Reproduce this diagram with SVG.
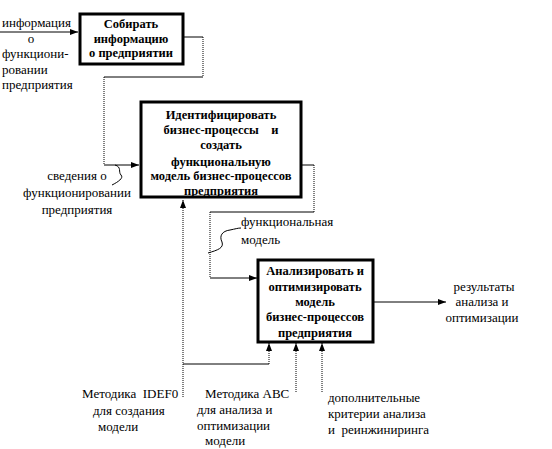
<svg xmlns="http://www.w3.org/2000/svg" width="552" height="449" viewBox="0 0 552 449">
<style>
.box{fill:#fff;stroke:#000;stroke-width:3}
.bt{font-family:'Liberation Serif','DejaVu Serif',serif;font-size:12.5px;font-weight:bold;text-anchor:middle;fill:#000}
.lt{font-family:'Liberation Serif','DejaVu Serif',serif;font-size:13px;fill:#000}
.c{text-anchor:middle}
.s{fill:none;stroke:#000;stroke-width:1}
.d{fill:none;stroke:#000;stroke-width:1;stroke-dasharray:1 1}
</style>
<defs>
<marker id="ah" viewBox="0 0 8 8" refX="8" refY="4" markerWidth="8" markerHeight="8" markerUnits="userSpaceOnUse" orient="auto">
<path d="M0,1 L8,4 L0,7 Z" fill="#000"/>
</marker>
</defs>
<g id="connectors">
<line class="s" x1="0" y1="32" x2="78" y2="32" marker-end="url(#ah)"/>
<polyline class="s" points="183,37 203,37"/>
<line class="d" x1="203" y1="37" x2="203" y2="77"/>
<polyline class="s" points="203,77 104,77"/>
<line class="d" x1="104" y1="77" x2="104" y2="165"/>
<line class="s" x1="104" y1="165" x2="139" y2="165" marker-end="url(#ah)"/>
<path class="s" d="M115,165 C122,167 118,172 121,175 C124,178 118,182 112,185"/>
<line class="s" x1="301" y1="165" x2="314" y2="165"/>
<line class="d" x1="314" y1="165" x2="314" y2="212"/>
<line class="s" x1="314" y1="212" x2="210" y2="212"/>
<line class="d" x1="210" y1="212" x2="210" y2="278"/>
<line class="s" x1="210" y1="278" x2="257" y2="278" marker-end="url(#ah)"/>
<path class="s" d="M208,253 C218,250 224,248 222,242 C219,236 222,231 230,230 C235,229 238,228 241,228"/>
<line class="s" x1="373" y1="302" x2="446" y2="302" marker-end="url(#ah)"/>
<line class="d" x1="183" y1="397" x2="183" y2="200" marker-end="url(#ah)"/>
<line class="s" x1="183" y1="364" x2="269" y2="364"/>
<line class="d" x1="269" y1="364" x2="269" y2="343" marker-end="url(#ah)"/>
<line class="d" x1="296" y1="392" x2="296" y2="343" marker-end="url(#ah)"/>
<line class="d" x1="322" y1="392" x2="322" y2="343" marker-end="url(#ah)"/>
</g>
<g id="node1">
<rect class="box" x="80" y="14" width="103" height="50"/>
<text class="bt" x="131" y="28">Собирать</text>
<text class="bt" x="131" y="43">информацию</text>
<text class="bt" x="131" y="57">о предприятии</text>
</g>
<g id="node2">
<rect class="box" x="141" y="102" width="160" height="95"/>
<text class="bt" x="221" y="119">Идентифицировать</text>
<text class="bt" x="221" y="134" xml:space="preserve">бизнес-процессы    и</text>
<text class="bt" x="221" y="149">создать</text>
<text class="bt" x="221" y="166">функциональную</text>
<text class="bt" x="221" y="180">модель бизнес-процессов</text>
<text class="bt" x="221" y="195">предприятия</text>
</g>
<g id="node3">
<rect class="box" x="258" y="260" width="115" height="82"/>
<text class="bt" x="315" y="275">Анализировать и</text>
<text class="bt" x="315" y="291">оптимизировать</text>
<text class="bt" x="315" y="306">модель</text>
<text class="bt" x="315" y="321">бизнес-процессов</text>
<text class="bt" x="315" y="337">предприятия</text>
</g>
<g id="labels">
<text class="lt" x="2" y="27">информация</text>
<text class="lt c" x="31" y="43">о</text>
<text class="lt" x="2" y="58">функциони-</text>
<text class="lt" x="2" y="74">ровании</text>
<text class="lt" x="2" y="89">предприятия</text>
<text class="lt c" x="77" y="180">сведения о</text>
<text class="lt c" x="77" y="197">функционировании</text>
<text class="lt c" x="77" y="214">предприятия</text>
<text class="lt" x="241" y="226">функциональная</text>
<text class="lt" x="241" y="244">модель</text>
<text class="lt c" x="484" y="291">результаты</text>
<text class="lt c" x="482" y="306">анализа и</text>
<text class="lt c" x="482" y="322">оптимизации</text>
<text class="lt" x="82" y="398" xml:space="preserve">Методика  IDEF0</text>
<text class="lt" x="93" y="415">для создания</text>
<text class="lt" x="98" y="431">модели</text>
<text class="lt" x="205" y="398">Методика ABC</text>
<text class="lt" x="197" y="414">для анализа и</text>
<text class="lt" x="197" y="430">оптимизации</text>
<text class="lt" x="205" y="445">модели</text>
<text class="lt" x="328" y="402">дополнительные</text>
<text class="lt" x="328" y="418">критерии анализа</text>
<text class="lt" x="328" y="434" xml:space="preserve">и  реинжиниринга</text>
</g>
</svg>
